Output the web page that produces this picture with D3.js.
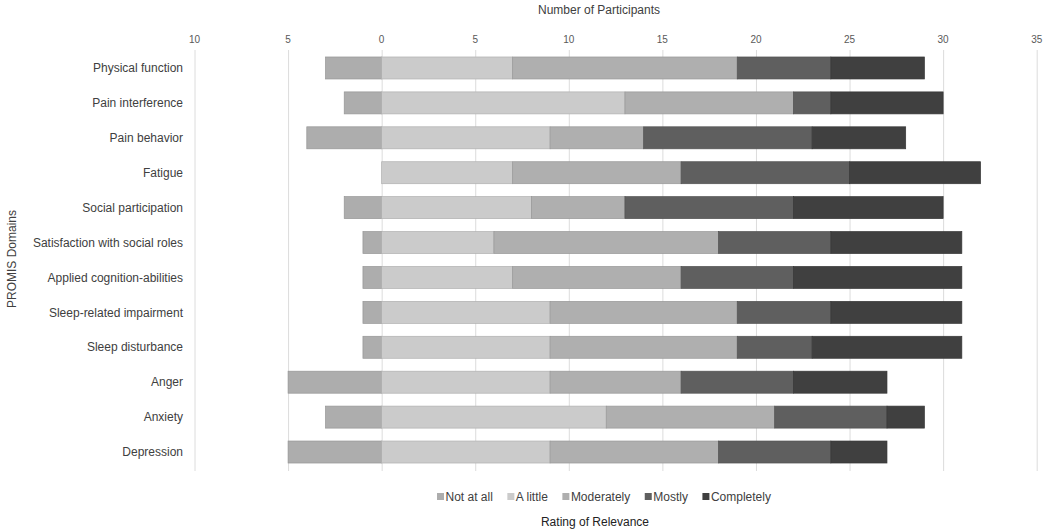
<!DOCTYPE html>
<html>
<head>
<meta charset="utf-8">
<script src="https://cdn.jsdelivr.net/npm/d3@7"></script>
<style>
  body { margin: 0; background: #fff; }
  svg text { font-family: "Liberation Sans", Arial, sans-serif; }
</style>
</head>
<body>
<svg id="chart"></svg>
<script>
// domains, top to bottom
const domains = [
  "Physical function",
  "Pain interference",
  "Pain behavior",
  "Fatigue",
  "Social participation",
  "Satisfaction with social roles",
  "Applied cognition-abilities",
  "Sleep-related impairment",
  "Sleep disturbance",
  "Anger",
  "Anxiety",
  "Depression"
];

const ratings = ["Not at all", "A little", "Moderately", "Mostly", "Completely"];

// counts per rating (Not at all is drawn to the left of zero)
const notAtAll   = [3, 2, 4, 0, 2, 1, 1, 1, 1, 5, 3, 5];
const aLittle    = [7, 13, 9, 7, 8, 6, 7, 9, 9, 9, 12, 9];
const moderately = [12, 9, 5, 9, 5, 12, 9, 10, 10, 7, 9, 9];
const mostly     = [5, 2, 9, 9, 9, 6, 6, 5, 4, 6, 6, 6];
const completely = [5, 6, 5, 7, 8, 7, 9, 7, 8, 5, 2, 3];

const xTicks = [-10, -5, 0, 5, 10, 15, 20, 25, 30, 35];

const colors = ["#adadad", "#cbcbcb", "#afafaf", "#5f5f5f", "#404040"];

const width = 1050, height = 531;

const svg = d3.select("svg#chart").attr("width", width).attr("height", height);

const xScale = d3.scaleLinear().domain([-10, 35]).range([194.5, 1036.7]);
const yScale = d3.scaleBand()
  .domain(domains)
  .range([50, 470])
  .paddingInner(0.37)
  .paddingOuter(0.2);

// gridlines
svg.append("g")
  .selectAll("line")
  .data(xTicks)
  .join("line")
  .attr("x1", d => xScale(d) + 0.5)
  .attr("x2", d => xScale(d) + 0.5)
  .attr("y1", 50)
  .attr("y2", 471)
  .attr("stroke", "#dcdcdc")
  .attr("stroke-width", 1);

// tick labels (absolute values)
svg.append("g")
  .selectAll("text")
  .data(xTicks)
  .join("text")
  .attr("x", d => xScale(d))
  .attr("y", 43)
  .attr("text-anchor", "middle")
  .attr("font-size", 10)
  .attr("fill", "#595959")
  .text(d => Math.abs(d));

// build segments
let segments = [];
domains.forEach((dom, i) => {
  segments.push({ domain: dom, k: 0, x0: -notAtAll[i], x1: 0 });
  let start = 0;
  [aLittle, moderately, mostly, completely].forEach((arr, j) => {
    segments.push({ domain: dom, k: j + 1, x0: start, x1: start + arr[i] });
    start += arr[i];
  });
});
segments = segments.filter(s => s.x1 > s.x0);

svg.append("g")
  .selectAll("rect")
  .data(segments)
  .join("rect")
  .attr("x", d => xScale(d.x0))
  .attr("width", d => xScale(d.x1) - xScale(d.x0))
  .attr("y", d => yScale(d.domain))
  .attr("height", yScale.bandwidth())
  .attr("fill", d => colors[d.k])
  .attr("stroke", d => d3.color(colors[d.k]).darker(0.4))
  .attr("stroke-width", 0.7);

// category labels
svg.append("g")
  .selectAll("text")
  .data(domains)
  .join("text")
  .attr("x", 183)
  .attr("y", d => yScale(d) + yScale.bandwidth() / 2)
  .attr("dy", "0.35em")
  .attr("text-anchor", "end")
  .attr("font-size", 12)
  .attr("fill", "#404040")
  .text(d => d);

// axis titles
svg.append("text")
  .attr("x", 599)
  .attr("y", 14)
  .attr("text-anchor", "middle")
  .attr("font-size", 12)
  .attr("fill", "#404040")
  .text("Number of Participants");

svg.append("text")
  .attr("transform", "translate(16,259) rotate(-90)")
  .attr("text-anchor", "middle")
  .attr("font-size", 12)
  .attr("fill", "#404040")
  .text("PROMIS Domains");

svg.append("text")
  .attr("x", 595)
  .attr("y", 526)
  .attr("text-anchor", "middle")
  .attr("font-size", 12)
  .attr("fill", "#222")
  .text("Rating of Relevance");

// legend
const legend = svg.append("g").attr("transform", "translate(437,497)");
let lx = 0;
ratings.forEach((r, i) => {
  const item = legend.append("g").attr("transform", `translate(${lx},0)`);
  item.append("rect")
    .attr("x", 0)
    .attr("y", -4)
    .attr("width", 7)
    .attr("height", 7)
    .attr("fill", colors[i]);
  const t = item.append("text")
    .attr("x", 8.5)
    .attr("y", 0)
    .attr("dy", "0.35em")
    .attr("font-size", 12)
    .attr("fill", "#404040")
    .text(r);
  lx += 8.5 + t.node().getComputedTextLength() + 14.5;
});
</script>
</body>
</html>
